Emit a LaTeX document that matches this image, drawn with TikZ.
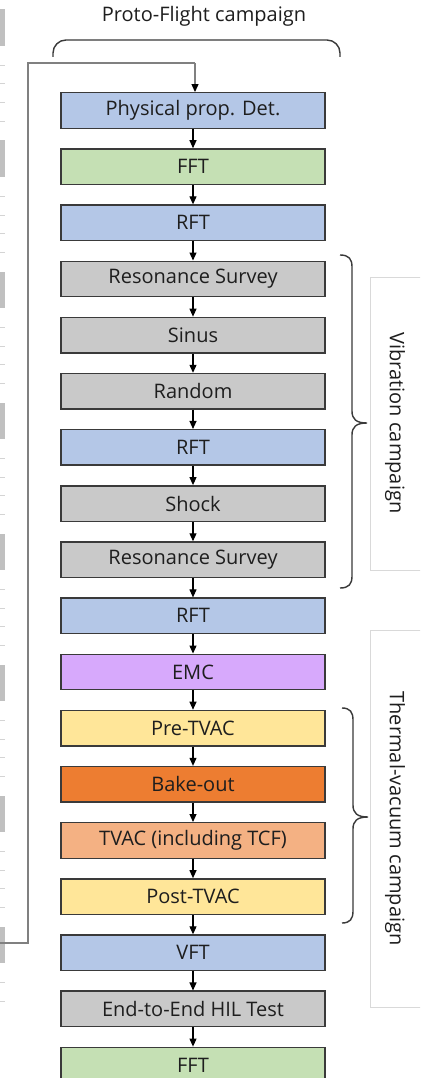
\documentclass[tikz,border=0pt]{standalone}
\usepackage{fontspec}
\setmainfont{Open Sans}
\usetikzlibrary{arrows.meta}
\definecolor{cblue}{HTML}{B4C7E7}
\definecolor{cgreen}{HTML}{C5E0B4}
\definecolor{cgray}{HTML}{C9C9C9}
\definecolor{cpurple}{HTML}{D7A9FC}
\definecolor{cyellow}{HTML}{FFE699}
\definecolor{corange}{HTML}{ED7D31}
\definecolor{clorange}{HTML}{F4B183}
\definecolor{boxline}{HTML}{3A3A3A}
\definecolor{txt}{HTML}{1E1E1E}
\definecolor{fbcol}{HTML}{808080}
\definecolor{artgray}{HTML}{C0C0C0}
\definecolor{arttick}{HTML}{D4D4D4}
\definecolor{lblline}{HTML}{D9D9D9}
\begin{document}
\begin{tikzpicture}[x=1pt,y=-1pt,
  box/.style={draw=boxline, line width=1.4pt, minimum width=264pt, minimum height=35.5pt, inner sep=0pt, text=txt, font=\fontsize{20}{22}\selectfont},
  arr/.style={-{Triangle[width=7pt,length=8pt]}, line width=1.1pt, draw=black},
  fb/.style={line width=1.2pt, draw=fbcol},
  brc/.style={line width=1.4pt, draw=boxline},
  lblbox/.style={draw=lblline, line width=0.8pt},
  lbl/.style={text=txt, font=\fontsize{20}{22}\selectfont, inner sep=0pt}]
\useasboundingbox (0,0) rectangle (420,1078);
\clip (0,0) rectangle (420,1078);
\fill[white] (0,0) rectangle (420,1078);
% left edge artifacts
\foreach \k in {0,...,7} { \fill[artgray] (0,{9.5+131*\k}) rectangle (5,{46+131*\k}); }
\foreach \k in {0,...,6} { \foreach \d in {56,74.5,93,112} { \draw[arttick, line width=1pt] (0,{9.5+131*\k+\d}) -- (5,{9.5+131*\k+\d}); } }
\draw[arttick, line width=1pt] (0,982.5) -- (5,982.5);
\draw[arttick, line width=1pt] (0,1001) -- (5,1001);
% boxes
\foreach \t/\c [count=\i from 0] in {Physical prop. Det./cblue, FFT/cgreen, RFT/cblue, Resonance Survey/cgray, Sinus/cgray, Random/cgray, RFT/cblue, Shock/cgray, Resonance Survey/cgray, RFT/cblue, EMC/cpurple, Pre-TVAC/cyellow, Bake-out/corange, TVAC (including TCF)/clorange, Post-TVAC/cyellow, VFT/cblue, End-to-End HIL Test/cgray, FFT/cgreen}
  { \node[box, fill=\c] (b\i) at (193,{110.5+56.15*\i}) {\t}; }
\foreach \i [evaluate=\i as \j using int(\i+1)] in {0,...,16}
  { \draw[arr] (b\i.south) -- (b\j.north); }
% feedback loop
\coordinate (fa) at (0,943);
\coordinate (fc) at (28,943);
\coordinate (fd) at (28,63);
\coordinate (fe) at (195,63);
\draw[fb] (fa) -- (fc) -- (fd) -- (fe);
\draw[fb, -{Triangle[width=7pt,length=8pt,color=black]}] (fe) -- (fe |- b0.north);
% top brace
\node[lbl] (pf) at (204,16) {Proto-Flight campaign};
\draw[brc, rounded corners=13pt] (53,57) -- (53,40) -- (340,40) -- (340,57);
% vibration brace
\draw[brc] (340,255) .. controls (349,255) and (352,259) .. (352,267) -- (352,411) .. controls (352,419) and (356,423) .. (367,423) .. controls (356,423) and (352,427) .. (352,435) -- (352,576) .. controls (352,584) and (349,588) .. (340,588);
\draw[lblbox] (370,277) rectangle (440,570);
\node[lbl, rotate=-90] (vc) at (395,423) {Vibration campaign};
% thermal brace
\draw[brc] (342,708) .. controls (350,708) and (353,712) .. (353,720) -- (353,805) .. controls (353,813) and (357,817) .. (368,817) .. controls (357,817) and (353,821) .. (353,829) -- (353,911) .. controls (353,919) and (350,923) .. (342,923);
\draw[lblbox] (370,630) rectangle (440,1007);
\node[lbl, rotate=-90] (tc) at (395,818.5) {Thermal-vacuum campaign};
\end{tikzpicture}
\end{document}
